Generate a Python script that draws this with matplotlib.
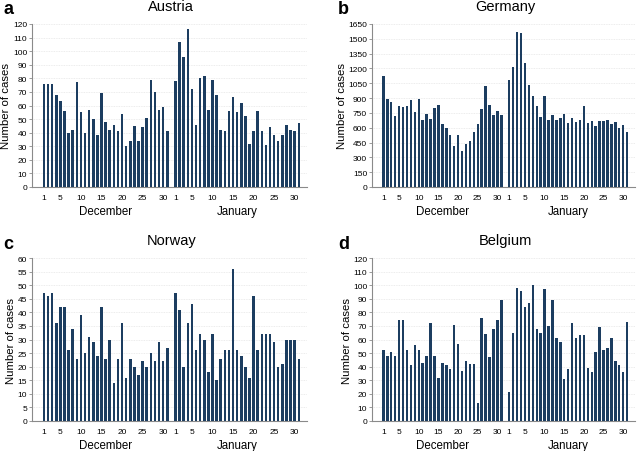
import matplotlib
matplotlib.use('Agg')
import numpy as np
import matplotlib.pyplot as plt
import matplotlib.transforms as mtransforms

plt.rcParams['font.family'] = ['Liberation Sans', 'DejaVu Sans']

# ── Data (daily case counts, December then January) ──────────────────────────
austria_dec = [76, 76, 76, 68, 63, 56, 40, 42, 77, 55, 40, 57, 50, 38, 69, 48,
               42, 46, 41, 54, 30, 34, 45, 34, 44, 51, 79, 70, 57, 59, 41]
austria_jan = [78, 107, 96, 116, 72, 46, 80, 82, 57, 79, 68, 42, 41, 56, 66, 55,
               62, 52, 32, 41, 56, 41, 31, 44, 38, 34, 38, 46, 42, 41, 47]

germany_dec = [1120, 895, 865, 720, 820, 810, 825, 885, 755, 890, 675, 735, 690,
               795, 830, 640, 595, 525, 415, 530, 360, 440, 470, 560, 640, 790,
               1020, 830, 730, 770, 730]
germany_jan = [1085, 1215, 1565, 1560, 1260, 1030, 920, 825, 705, 920, 680, 730,
               680, 700, 740, 650, 700, 660, 680, 815, 650, 665, 615, 665, 665,
               675, 640, 660, 595, 630, 560]

norway_dec = [47, 46, 47, 36, 42, 42, 26, 34, 23, 39, 25, 31, 29, 24, 42, 23,
              30, 14, 23, 36, 16, 23, 20, 17, 22, 20, 25, 22, 29, 22, 27]
norway_jan = [47, 41, 20, 36, 43, 26, 32, 30, 18, 32, 15, 23, 26, 26, 56, 26,
              24, 20, 16, 46, 26, 32, 32, 32, 29, 20, 21, 30, 30, 30, 23]

belgium_dec = [52, 48, 51, 48, 74, 74, 52, 41, 56, 52, 43, 48, 72, 48, 32, 43,
               41, 38, 71, 57, 37, 44, 42, 42, 13, 76, 64, 47, 68, 74, 89]
belgium_jan = [21, 65, 98, 96, 84, 87, 100, 68, 65, 97, 70, 89, 61, 58, 31, 38,
               72, 61, 63, 63, 39, 36, 51, 69, 52, 54, 61, 44, 41, 36, 73]

day_ticks = [1, 5, 10, 15, 20, 25, 30]

panels = [
    ("a", "Austria", austria_dec, austria_jan, 120, 10),
    ("b", "Germany", germany_dec, germany_jan, 1650, 150),
    ("c", "Norway", norway_dec, norway_jan, 60, 5),
    ("d", "Belgium", belgium_dec, belgium_jan, 120, 10),
]

BAR = '#1c3d60'
SPINE = '#8a8a8a'
GRID = '#e6e6e6'

W, H = 638, 452
# axes rects in pixels: left, top, right, bottom
px_rects = [
    (32, 25, 307, 188),
    (372, 25, 635, 188),
    (32, 259, 307, 422),
    (372, 259, 635, 422),
]
letter_pos = [(3, 10), (338, 10), (3, 245), (338, 245)]

fig = plt.figure(figsize=(W / 100, H / 100), dpi=100)
fig.patch.set_facecolor('white')

JAN_OFF = 32  # January bars start one slot after Dec 31

for (letter, name, dec, jan, ymax, ystep), (l, t, r, b), (lx, ly) in zip(panels, px_rects, letter_pos):
    ax = fig.add_axes([l / W, 1 - b / H, (r - l) / W, (b - t) / H])
    xd = np.arange(1, len(dec) + 1)
    xj = np.arange(1, len(jan) + 1) + JAN_OFF
    ax.bar(xd, dec, width=0.62, color=BAR, zorder=3)
    ax.bar(xj, jan, width=0.62, color=BAR, zorder=3)

    ax.set_xlim(-1.9, 65)
    ax.set_ylim(0, ymax)
    ax.set_yticks(np.arange(0, ymax + 1, ystep))
    ax.set_xticks(day_ticks + [d + JAN_OFF for d in day_ticks])
    ax.set_xticklabels([str(d) for d in day_ticks] * 2)

    ax.grid(True, axis='y', color=GRID, lw=0.6, ls=(0, (1, 1)), zorder=0)
    for sp in ['top', 'right']:
        ax.spines[sp].set_visible(False)
    for sp in ['left', 'bottom']:
        ax.spines[sp].set_color(SPINE)
        ax.spines[sp].set_linewidth(0.8)
    ax.tick_params(axis='y', labelsize=6, length=2.5, width=0.6, color=SPINE, pad=1)
    ax.tick_params(axis='x', labelsize=6, length=0, pad=5)

    ax.set_ylabel("Number of cases", fontsize=8.2, labelpad=1)

    trans = mtransforms.blended_transform_factory(ax.transData, ax.transAxes)
    ax.text(32, 1.11, name, transform=trans, ha='center', va='center', fontsize=10.5)
    ax.text(16, -0.145, "December", transform=trans, ha='center', va='center', fontsize=8.3)
    ax.text(16 + JAN_OFF, -0.145, "January", transform=trans, ha='center', va='center', fontsize=8.3)

    fig.text(lx / W, 1 - ly / H, letter, ha='left', va='center',
             fontsize=13, fontweight='bold')

plt.savefig('out.png', dpi=100, facecolor='white')
